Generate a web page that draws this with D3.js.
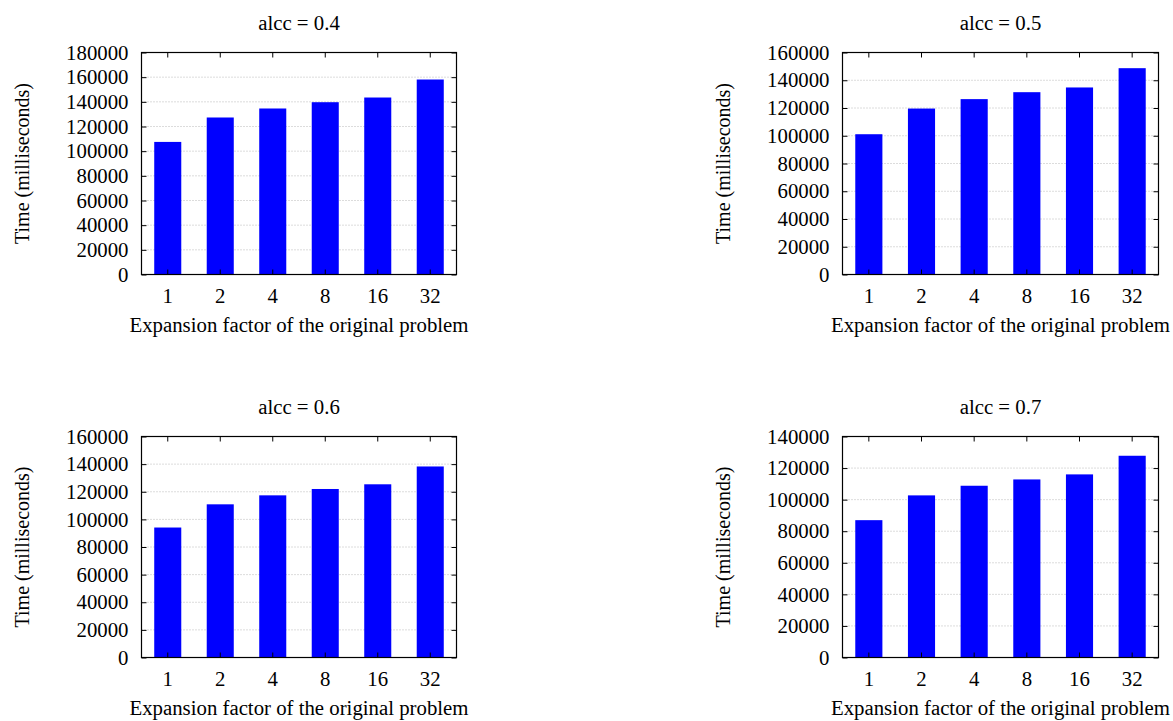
<!DOCTYPE html>
<html>
<head>
<meta charset="utf-8">
<script src="https://cdn.jsdelivr.net/npm/d3@7"></script>
<style>
  body { margin: 0; background: #fff; }
  text { font-family: "Liberation Serif", "Times New Roman", serif; fill: #000; }
</style>
</head>
<body>
<div class="charts"></div>
<script>
var factors = ["1", "2", "4", "8", "16", "32"];

var alccTitles = ["alcc = 0.4", "alcc = 0.5", "alcc = 0.6", "alcc = 0.7"];
var yMaxes = [180000, 160000, 160000, 140000];

var times04 = [107500, 127300, 134600, 139700, 143500, 158100];
var times05 = [101100, 119600, 126400, 131400, 134800, 148700];
var times06 = [94100, 110900, 117400, 122000, 125400, 138300];
var times07 = [87000, 102700, 108800, 112800, 116000, 127800];

var allTimes = [times04, times05, times06, times07];

var width = 1173,
    height = 721;

// plot boxes, one per panel
var boxes = [
  {left: 141.5, right: 456.5, top: 52.5, bottom: 274.5},
  {left: 842.5, right: 1158.5, top: 52.5, bottom: 274.5},
  {left: 141.5, right: 456.5, top: 436.5, bottom: 657.5},
  {left: 842.5, right: 1158.5, top: 436.5, bottom: 657.5}
];

var svg = d3.select(".charts").append("svg")
    .attr("width", width)
    .attr("height", height);

var fontSize = 20.8;

boxes.forEach(function(b, k) {
  var g = svg.append("g");
  var w = b.right - b.left,
      h = b.bottom - b.top;

  var x = d3.scaleBand()
    .domain(factors)
    .range([b.left, b.right])
    .paddingInner(0.485)
    .paddingOuter(0.2425);

  var y = d3.scaleLinear()
    .domain([0, yMaxes[k]])
    .range([b.bottom, b.top]);

  var yTicks = d3.range(0, yMaxes[k] + 1, 20000);

  // dotted grid
  g.selectAll(".grid")
    .data(yTicks.slice(1, -1))
    .enter().append("line")
    .attr("x1", b.left).attr("x2", b.right)
    .attr("y1", function(d) { return y(d); })
    .attr("y2", function(d) { return y(d); })
    .attr("stroke", "#b8b8b8")
    .attr("stroke-width", 1)
    .attr("stroke-dasharray", "1,2");

  // bars
  g.selectAll(".bar")
    .data(allTimes[k])
    .enter().append("rect")
    .attr("x", function(d, i) { return x(factors[i]); })
    .attr("width", x.bandwidth())
    .attr("y", function(d) { return y(d); })
    .attr("height", function(d) { return b.bottom - y(d); })
    .attr("fill", "#0000ff");

  // axes, ticks pointing inward like gnuplot
  var left = g.append("g").attr("transform", "translate(" + b.left + ",0)")
    .call(d3.axisLeft(y).tickValues(yTicks).tickSizeInner(-5).tickSizeOuter(0).tickPadding(13).tickFormat(d3.format("d")));
  var right = g.append("g").attr("transform", "translate(" + b.right + ",0)")
    .call(d3.axisRight(y).tickValues(yTicks).tickSizeInner(-5).tickSizeOuter(0).tickFormat(""));
  var bottom = g.append("g").attr("transform", "translate(0," + b.bottom + ")")
    .call(d3.axisBottom(x).tickSizeInner(-5).tickSizeOuter(0));
  var top = g.append("g").attr("transform", "translate(0," + b.top + ")")
    .call(d3.axisTop(x).tickSizeInner(-5).tickSizeOuter(0).tickFormat(""));

  [left, right, bottom, top].forEach(function(a) {
    a.select(".domain").remove();
    a.selectAll("line").attr("stroke", "#000");
    a.selectAll("text")
      .style("font-family", "Liberation Serif")
      .style("font-size", fontSize + "px")
      .attr("fill", "#000");
  });

  bottom.selectAll("text").attr("dy", null).attr("y", 28);

  // frame
  g.append("rect")
    .attr("x", b.left).attr("y", b.top)
    .attr("width", w).attr("height", h)
    .attr("fill", "none")
    .attr("stroke", "#000")
    .attr("stroke-width", 1.2);

  // title
  g.append("text")
    .attr("x", (b.left + b.right) / 2)
    .attr("y", b.top - 23)
    .attr("text-anchor", "middle")
    .style("font-size", fontSize + "px")
    .text(alccTitles[k]);

  // x label
  g.append("text")
    .attr("x", (b.left + b.right) / 2)
    .attr("y", b.bottom + 57)
    .attr("text-anchor", "middle")
    .style("font-size", fontSize + "px")
    .text("Expansion factor of the original problem");

  // y label
  g.append("text")
    .attr("transform", "translate(" + (b.left - 113) + "," + ((b.top + b.bottom) / 2) + ") rotate(-90)")
    .attr("text-anchor", "middle")
    .style("font-size", "20px")
    .text("Time (milliseconds)");
});
</script>
</body>
</html>
